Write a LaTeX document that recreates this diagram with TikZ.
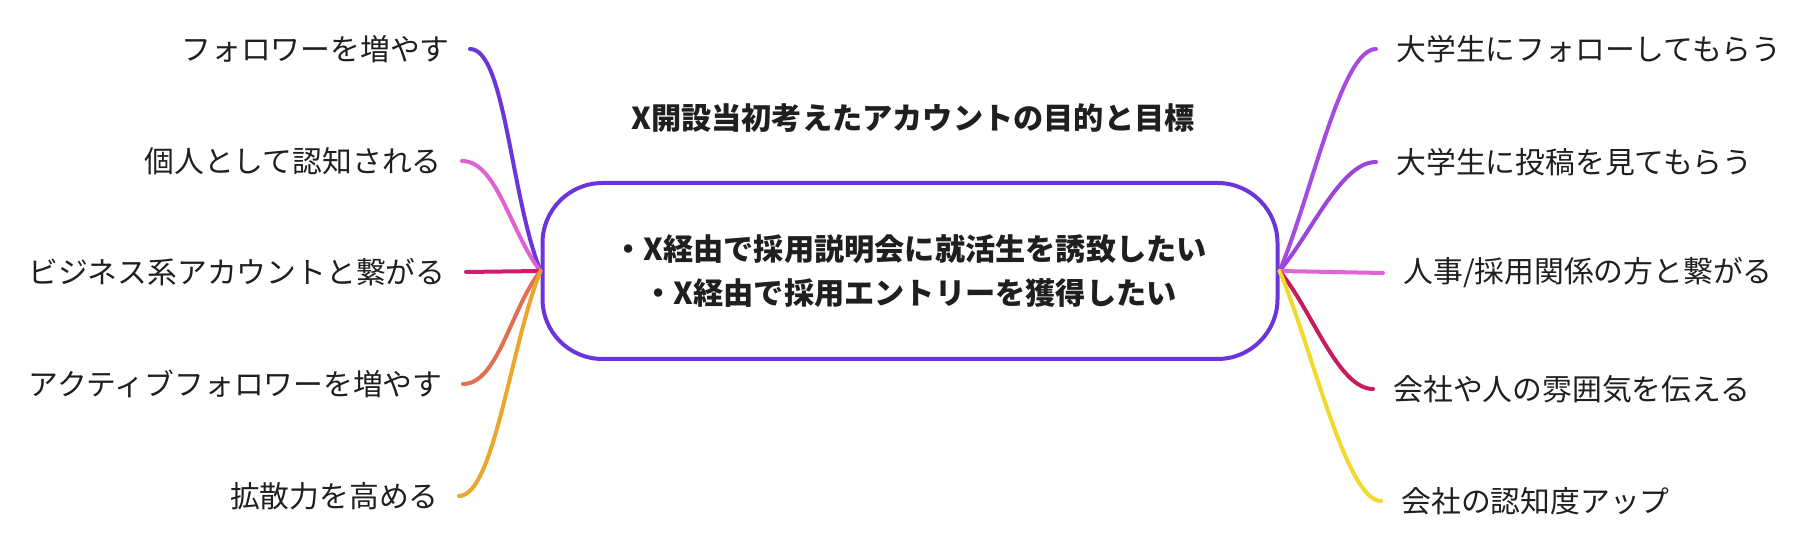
\documentclass[tikz,border=0pt]{standalone}
\usepackage{fontspec}
\setmainfont{Noto Sans CJK JP}
\definecolor{textgray}{HTML}{1F1F1F}
\definecolor{rootviolet}{HTML}{6B35D9}
\definecolor{pinkleaf}{HTML}{E060D0}
\definecolor{crimsonleaf}{HTML}{D4196E}
\definecolor{coralleaf}{HTML}{E0704F}
\definecolor{goldleaf}{HTML}{EBA62E}
\definecolor{lilacleaf}{HTML}{A64BE0}
\definecolor{purpleleaf}{HTML}{9A45DB}
\definecolor{rosyleaf}{HTML}{E063D8}
\definecolor{wineleaf}{HTML}{C81A5F}
\definecolor{yellowleaf}{HTML}{F2DA2A}
\begin{document}
\begin{tikzpicture}[x=0.5pt,y=0.5pt,
  leafleft/.style={anchor=east,inner xsep=10pt,inner ysep=0pt,text=textgray,
    font=\fontsize{14.9}{18}\selectfont},
  leafright/.style={leafleft,anchor=west},
  branch/.style={line width=2pt,line cap=round}]
\useasboundingbox (0,0) rectangle (1800,555);
\node(title) at (913,437)[text=textgray,font=\bfseries\fontsize{15.1}{18}\selectfont]
  {X開設当初考えたアカウントの目的と目標};
\node(root) at (910,284)[draw=rootviolet,line width=2pt,fill=white,rounded corners=30pt,
  minimum width=367.5pt,minimum height=88pt,align=center,text=textgray,
  font=\bfseries\fontsize{15.1}{22}\selectfont]
  {・X経由で採用説明会に就活生を誘致したい\\・X経由で採用エントリーを獲得したい};
% left side
\node(l1) at (470,506)[leafleft] {フォロワーを増やす};
\node(l2) at (462,394)[leafleft] {個人として認知される};
\node(l3) at (466,283)[leafleft] {ビジネス系アカウントと繋がる};
\node(l4) at (463,171)[leafleft] {アクティブフォロワーを増やす};
\node(l5) at (459,59)[leafleft]  {拡散力を高める};
% right side
\node(r1) at (1376,506)[leafright] {大学生にフォローしてもらう};
\node(r2) at (1376,393)[leafright] {大学生に投稿を見てもらう};
\node(r3) at (1383,282)[leafright] {人事/採用関係の方と繋がる};
\node(r4) at (1373,166)[leafright] {会社や人の雰囲気を伝える};
\node(r5) at (1381,54)[leafright]  {会社の認知度アップ};
\draw[branch,rootviolet]  (root.west) .. controls +(-30,75) and +(35,0) .. (l1.east);
\draw[branch,pinkleaf]    (root.west) .. controls +(-30,38) and +(35,0) .. (l2.east);
\draw[branch,crimsonleaf] (root.west) -- (l3.east);
\draw[branch,coralleaf]   (root.west) .. controls +(-30,-38) and +(35,0) .. (l4.east);
\draw[branch,goldleaf]    (root.west) .. controls +(-30,-75) and +(35,0) .. (l5.east);
\draw[branch,lilacleaf]   (root.east) .. controls +(32,75) and +(-35,0) .. (r1.west);
\draw[branch,purpleleaf]  (root.east) .. controls +(32,38) and +(-35,0) .. (r2.west);
\draw[branch,rosyleaf]    (root.east) -- (r3.west);
\draw[branch,wineleaf]    (root.east) .. controls +(32,-38) and +(-35,0) .. (r4.west);
\draw[branch,yellowleaf]  (root.east) .. controls +(32,-75) and +(-35,0) .. (r5.west);
\end{tikzpicture}
\end{document}
